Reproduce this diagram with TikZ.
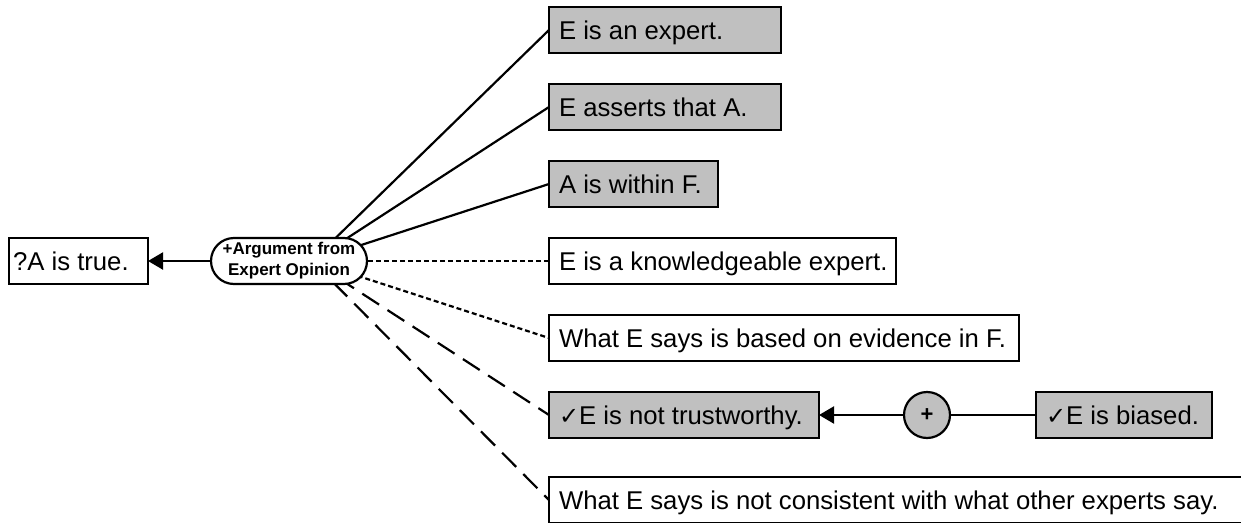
\documentclass[tikz,border=0pt]{standalone}
\usepackage{fontspec}
\setmainfont{Liberation Sans}
\newfontfamily\symfont{DejaVu Sans}
\usetikzlibrary{arrows.meta,shapes.misc,backgrounds}
\definecolor{boxgrey}{RGB}{192,192,192}
\newcommand\ck{{\symfont\fontsize{24}{24}\selectfont ✓}}
\newcommand\bxt[2]{\makebox[#1][l]{#2}}
\begin{document}
\begin{tikzpicture}[x=1pt,y=-1pt,
  box/.style={draw, line width=2.2pt, anchor=west, minimum height=46pt,
    inner xsep=10pt, inner ysep=0pt, outer sep=0pt,
    font=\fontsize{25.7}{30}\selectfont, text height=20pt, text depth=2pt},
  greybox/.style={box, fill=boxgrey},
  whitebox/.style={box, fill=white},
  link/.style={line width=2.2pt},
  dotline/.style={link, dash pattern=on 5pt off 3pt},
  dashline/.style={link, dash pattern=on 20pt off 10pt},
  arr/.style={link, -{Triangle[length=15pt,width=17pt]}}]
\useasboundingbox (0,0) rectangle (1241,522);
\clip (0,0) rectangle (1241,522);

\node[whitebox, inner xsep=4pt] (qa) at (9,261) {\bxt{131pt}{?A is true.}};
\node[rounded rectangle, draw, line width=2.2pt, fill=white, minimum width=158pt,
  minimum height=46pt, inner sep=1pt, outer sep=0pt, align=center,
  font=\bfseries\fontsize{17}{21}\selectfont] (arg) at (289,261) {+Argument from\\Expert Opinion};

\node[greybox] (p1) at (549,30) {\bxt{212pt}{E is an expert.}};
\node[greybox] (p2) at (549,107) {\bxt{212pt}{E asserts that A.}};
\node[greybox] (p3) at (549,184) {\bxt{149pt}{A is within F.}};
\node[whitebox] (q1) at (549,261) {\bxt{327pt}{E is a knowledgeable expert.}};
\node[whitebox] (q2) at (549,338) {\bxt{450pt}{What E says is based on evidence in F.}};
\node[greybox] (c1) at (549,415) {\bxt{250pt}{\ck E is not trustworthy.}};
\node[whitebox] (c2) at (549,500) {\bxt{698pt}{What E says is not consistent with what other experts say.}};

\node[circle, draw, line width=2.2pt, fill=boxgrey, minimum size=46pt, inner sep=0pt,
  outer sep=0pt, font=\bfseries\fontsize{22}{24}\selectfont] (plus) at (927,415) {+};
\node[greybox] (b1) at (1036,415) {\bxt{156pt}{\ck E is biased.}};

\begin{pgfonlayer}{background}
  \coordinate (hub) at ([xshift=23pt]arg.center);
  \draw[link] (hub) -- (p1.west);
  \draw[link] (hub) -- (p2.west);
  \draw[link] (hub) -- (p3.west);
  \draw[dotline] (hub) -- (q1.west);
  \draw[dotline] (hub) -- (q2.west);
  \draw[dashline] (hub) -- (c1.west);
  \draw[dashline] (hub) -- (c2.west);
\end{pgfonlayer}

\draw[arr] (arg) -- (qa);
\draw[arr] (plus) -- (c1);
\draw[link] (b1) -- (plus);
\end{tikzpicture}
\end{document}
